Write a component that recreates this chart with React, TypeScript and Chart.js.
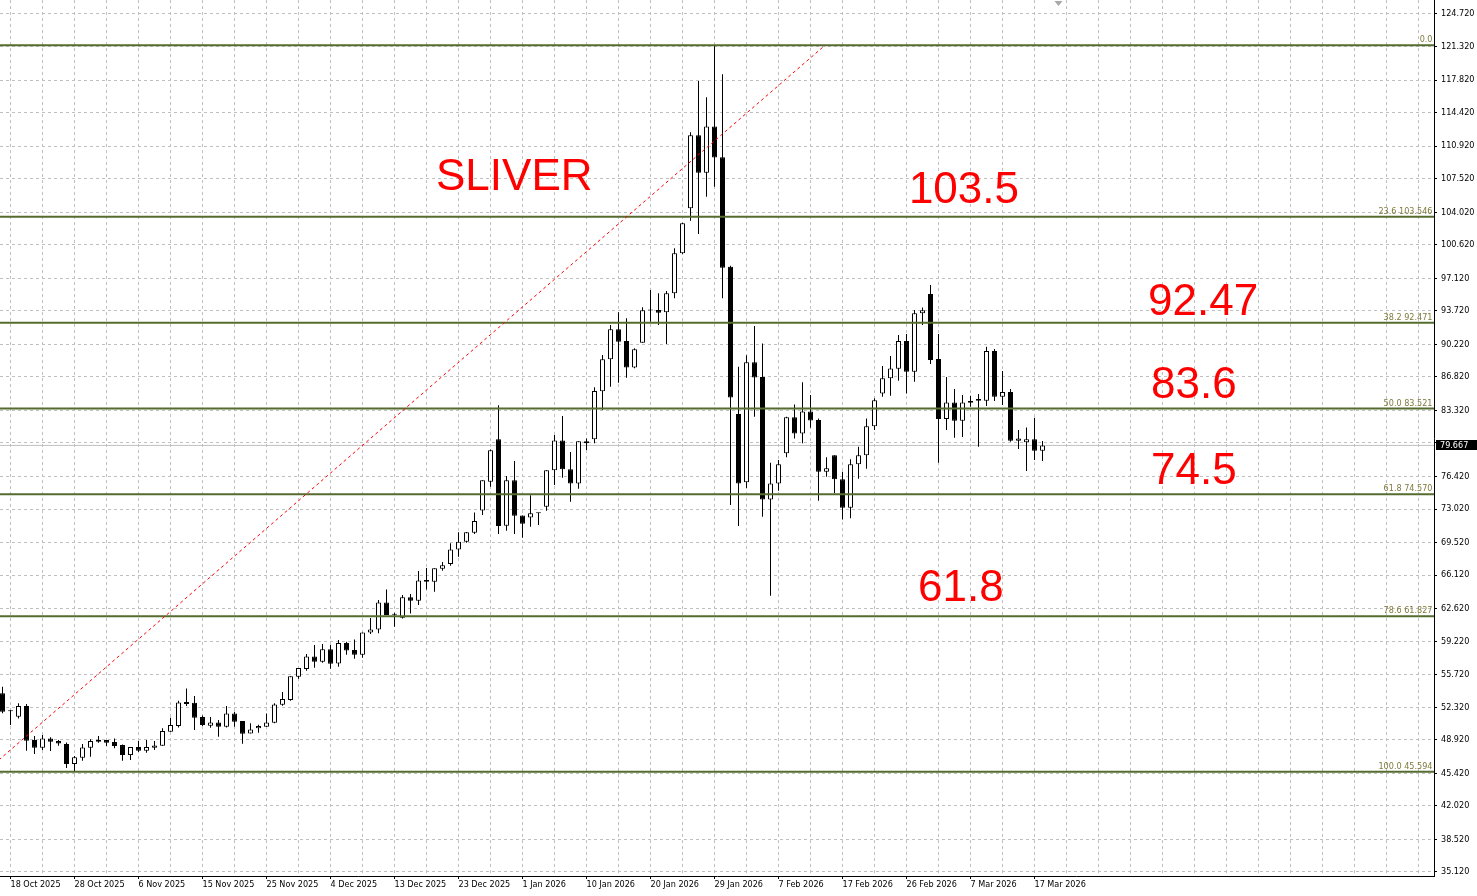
import React, { useEffect, useRef } from 'react';
import { Chart, registerables } from 'chart.js';

Chart.register(...registerables);

// ---- Data (silver daily candles) ----
const opens = [
  53.78, 51.90, 51.33, 52.45, 48.90, 48.10, 49.07, 48.79, 48.48, 46.39,
  47.05, 48.10, 48.93, 48.90, 48.69, 48.37, 47.33, 48.17, 47.78, 48.10,
  48.30, 49.77, 50.36, 52.87, 52.80, 51.30, 50.39, 50.74, 50.29, 51.68,
  50.88, 49.59, 50.12, 50.29, 50.71, 52.59, 53.07, 55.51, 56.31, 57.63,
  57.08, 58.37, 56.90, 59.03, 58.30, 57.81, 60.14, 60.45, 63.27, 61.99,
  61.67, 63.80, 63.45, 65.61, 65.43, 66.79, 67.28, 68.81, 69.61, 70.55,
  72.88, 75.88, 80.30, 71.28, 76.02, 72.36, 72.15, 72.57, 73.27, 77.06,
  80.19, 77.17, 75.70, 80.09, 80.30, 85.32, 88.66, 91.79, 90.57, 87.79,
  90.40, 93.75, 93.81, 93.57, 95.55, 99.73, 104.43, 112.05, 108.15, 112.96,
  109.75, 98.33, 82.94, 75.81, 88.34, 86.81, 74.03, 75.70, 78.84, 82.60,
  80.92, 83.22, 82.32, 76.92, 78.63, 76.12, 73.16, 77.69, 78.63, 81.66,
  85.10, 86.67, 87.68, 90.57, 87.37, 93.46, 95.48, 88.69, 82.42, 84.16,
  82.25, 84.30, 84.51, 84.34, 89.52, 84.75, 85.24, 80.16, 79.99, 80.30,
  79.11,
];
const highs = [
  54.47, 52.03, 52.73, 52.66, 49.31, 49.42, 49.18, 48.90, 48.65, 47.23,
  48.48, 48.97, 49.31, 48.90, 49.07, 48.44, 48.17, 48.79, 48.90, 48.79,
  50.12, 51.23, 53.00, 54.29, 53.49, 51.47, 51.30, 50.99, 52.45, 51.86,
  50.88, 50.64, 50.50, 51.68, 52.73, 53.91, 55.55, 56.42, 57.88, 58.82,
  58.92, 58.82, 59.34, 59.17, 59.41, 60.14, 61.64, 63.52, 64.63, 62.19,
  64.04, 64.14, 66.55, 66.86, 66.83, 67.49, 69.44, 70.59, 70.62, 72.67,
  76.02, 79.25, 83.85, 76.47, 78.04, 72.36, 74.45, 72.64, 77.06, 80.75,
  82.73, 78.98, 80.09, 80.40, 85.73, 89.11, 92.24, 93.57, 92.94, 89.81,
  94.09, 95.90, 95.55, 95.79, 100.25, 102.93, 112.36, 117.72, 116.02, 121.45,
  118.42, 98.43, 87.89, 89.07, 92.13, 90.32, 77.86, 78.14, 82.67, 83.95,
  86.25, 84.93, 82.49, 78.42, 78.63, 76.92, 78.21, 79.53, 82.49, 84.58,
  87.96, 89.00, 91.19, 91.30, 93.80, 94.08, 96.42, 91.30, 86.81, 85.56,
  84.93, 84.86, 85.03, 89.98, 89.73, 87.43, 85.56, 81.27, 81.55, 82.56,
  80.13,
];
const lows = [
  51.69, 50.46, 51.16, 47.78, 47.43, 47.85, 47.75, 48.30, 45.97, 45.59,
  46.74, 47.16, 48.62, 48.27, 48.03, 46.74, 46.81, 47.64, 47.57, 47.85,
  48.30, 49.77, 50.22, 52.45, 49.94, 50.36, 50.18, 49.24, 50.22, 50.29,
  48.51, 49.59, 49.66, 50.29, 50.64, 52.48, 53.00, 55.30, 56.14, 56.45,
  56.97, 56.35, 56.56, 57.81, 57.39, 57.49, 59.97, 60.04, 61.95, 60.73,
  61.60, 62.12, 63.00, 64.63, 64.39, 66.58, 67.11, 68.05, 69.51, 70.41,
  72.40, 75.36, 70.41, 70.76, 70.41, 70.03, 71.18, 71.35, 72.85, 75.53,
  76.30, 73.79, 75.15, 79.18, 79.88, 83.37, 85.80, 86.22, 86.74, 87.72,
  90.40, 92.59, 92.24, 90.26, 95.03, 99.66, 103.14, 101.75, 105.64, 106.69,
  95.03, 73.44, 71.25, 75.22, 82.67, 72.22, 63.97, 74.94, 78.42, 80.40,
  79.88, 81.52, 73.89, 76.40, 74.66, 71.94, 72.05, 76.19, 77.24, 81.27,
  84.75, 84.86, 86.43, 85.10, 86.32, 92.24, 88.17, 77.86, 81.27, 80.47,
  80.54, 83.71, 79.53, 83.78, 84.30, 83.88, 80.06, 79.29, 76.99, 78.14,
  78.04,
];
const closes = [
  51.86, 51.95, 52.45, 48.83, 48.10, 49.07, 48.72, 48.55, 46.39, 47.09,
  48.13, 48.79, 48.72, 48.62, 48.27, 47.33, 48.17, 47.78, 48.17, 48.34,
  49.84, 50.46, 52.83, 52.66, 51.23, 50.46, 50.74, 50.29, 51.68, 50.81,
  49.56, 50.01, 50.36, 50.74, 52.62, 53.18, 55.55, 56.42, 57.63, 57.08,
  58.37, 56.87, 59.03, 58.26, 57.81, 60.14, 60.45, 63.27, 61.95, 62.05,
  63.80, 63.45, 65.57, 65.43, 66.83, 67.14, 68.81, 69.61, 70.59, 71.77,
  76.02, 79.15, 71.25, 76.02, 72.33, 71.49, 72.57, 72.60, 77.06, 80.19,
  77.17, 75.70, 80.09, 79.88, 85.35, 88.66, 91.79, 90.50, 87.79, 89.70,
  93.78, 93.78, 93.53, 95.55, 99.73, 102.86, 112.05, 108.15, 112.96, 109.72,
  98.23, 84.68, 75.70, 88.34, 86.77, 74.03, 75.70, 77.69, 82.60, 80.92,
  83.22, 82.28, 76.92, 77.27, 76.12, 73.16, 77.69, 78.63, 81.66, 84.37,
  86.67, 87.71, 90.57, 87.37, 93.46, 93.77, 88.58, 82.42, 84.16, 82.25,
  84.16, 84.13, 84.34, 89.52, 84.75, 85.24, 80.16, 80.40, 80.30, 79.11,
  79.667,
];

// Date labels, one every 8 bars starting at bar 1
const dateLabels = [
  '18 Oct 2025', '28 Oct 2025', '6 Nov 2025', '15 Nov 2025', '25 Nov 2025',
  '4 Dec 2025', '13 Dec 2025', '23 Dec 2025', '1 Jan 2026', '10 Jan 2026',
  '20 Jan 2026', '29 Jan 2026', '7 Feb 2026', '17 Feb 2026', '26 Feb 2026',
  '7 Mar 2026', '17 Mar 2026',
];

const yTickLabels = [
  '124.720', '121.320', '117.820', '114.420', '110.920', '107.520', '104.020',
  '100.620', '97.120', '93.720', '90.220', '86.820', '83.320', '79.920',
  '76.420', '73.020', '69.520', '66.120', '62.620', '59.220', '55.720',
  '52.320', '48.920', '45.420', '42.020', '38.520', '35.120',
];

// Fibonacci retracement
const fibLevels = [121.45, 103.546, 92.471, 83.521, 74.57, 61.827, 45.594];
const fibTexts = ['0.0', '23.6 103.546', '38.2 92.471', '50.0 83.521', '61.8 74.570', '78.6 61.827', '100.0 45.594'];
const trendBars = [-2.15, 102.81];
const trendPrices = [45.594, 121.45];

const bidPrice = 79.667;
const bidText = '79.667';
const shiftMarkerBar = 132;

const annotationTexts = ['SLIVER', '103.5', '92.47', '83.6', '74.5', '61.8'];
const annotationBars = [54.19, 113.3, 143.19, 143.56, 143.56, 114.44];
const annotationPrices = [106.34, 104.98, 93.29, 84.62, 75.64, 63.42];

// ---- Layout ----
const W = 1477;
const H = 896;
const PLOT_RIGHT = 1434;
const PLOT_BOTTOM = 876;
const BAR_PX = 8;
const X_MIN = -2.5 / BAR_PX;
const X_MAX = X_MIN + PLOT_RIGHT / BAR_PX;
const PX_PER_UNIT = 9.576;
const Y_MAX = 126.18;
const Y_MIN = Y_MAX - PLOT_BOTTOM / PX_PER_UNIT;

const AXIS_FONT = '"DejaVu Sans Condensed", "Liberation Sans", Arial, sans-serif';
const GRID_COLOR = '#c0c0c0';
const FIB_LINE = '#556B2F';
const FIB_TEXT = '#7f7a3c';

const isLabelTick = (v: number) => {
  const k = (Math.round(v) - 1) / 8;
  return Number.isInteger(k) && k >= 0 && k < dateLabels.length;
};

const overlayPlugin = {
  id: 'overlay',
  afterDraw(chart: any) {
    const { ctx, chartArea } = chart;
    const xs = chart.scales.x;
    const ys = chart.scales.y;
    ctx.save();
    // Fibonacci level labels
    ctx.font = `9px ${AXIS_FONT}`;
    ctx.fillStyle = FIB_TEXT;
    ctx.textAlign = 'right';
    ctx.textBaseline = 'alphabetic';
    fibLevels.forEach((v, i) => {
      ctx.fillText(fibTexts[i], chartArea.right - 1.5, ys.getPixelForValue(v) - 3);
    });
    // Big red annotations
    ctx.font = '44px "Liberation Sans", Arial, sans-serif';
    ctx.fillStyle = '#ff0000';
    ctx.textAlign = 'left';
    annotationTexts.forEach((t, i) => {
      ctx.fillText(t, xs.getPixelForValue(annotationBars[i]), ys.getPixelForValue(annotationPrices[i]));
    });
    // Current price box
    const py = ys.getPixelForValue(bidPrice);
    ctx.fillStyle = '#000';
    ctx.fillRect(chartArea.right + 2, Math.round(py) - 5, W - chartArea.right - 2, 10);
    ctx.fillStyle = '#fff';
    ctx.font = `9px ${AXIS_FONT}`;
    ctx.textBaseline = 'middle';
    ctx.fillText(bidText, chartArea.right + 6, Math.round(py) + 0.5);
    // Chart shift marker
    const mx = xs.getPixelForValue(shiftMarkerBar);
    ctx.fillStyle = '#a8a8a8';
    ctx.beginPath();
    ctx.moveTo(mx - 4, chartArea.top + 1);
    ctx.lineTo(mx + 4, chartArea.top + 1);
    ctx.lineTo(mx, chartArea.top + 6);
    ctx.closePath();
    ctx.fill();
    ctx.restore();
  },
};

export default function App() {
  const canvasRef = useRef<HTMLCanvasElement | null>(null);

  useEffect(() => {
    if (!canvasRef.current) return;
    const idx = opens.map((_, i) => i);
    const bodyColors = idx.map((i) => (closes[i] >= opens[i] ? '#ffffff' : '#000000'));
    const lineDs = (data: any[], color: string, width: number, order: number, dash: number[] = []) => ({
      type: 'line' as const,
      data,
      borderColor: color,
      borderWidth: width,
      borderDash: dash,
      pointRadius: 0,
      pointHoverRadius: 0,
      fill: false,
      tension: 0,
      order,
    });

    const chart = new Chart(canvasRef.current, {
      type: 'bar',
      data: {
        datasets: [
          lineDs([{ x: X_MIN, y: bidPrice }, { x: X_MAX, y: bidPrice }], '#c0c0c0', 1, 5) as any,
          {
            type: 'bar',
            data: idx.map((i) => ({ x: i, y: [lows[i], highs[i]] })),
            backgroundColor: '#000000',
            borderWidth: 0,
            barThickness: 1,
            grouped: false,
            inflateAmount: 0,
            order: 3,
          } as any,
          {
            type: 'bar',
            data: idx.map((i) => ({ x: i, y: [opens[i], closes[i]] })),
            backgroundColor: bodyColors,
            borderColor: '#000000',
            borderWidth: 1,
            borderSkipped: false,
            barThickness: 5,
            minBarLength: 1,
            grouped: false,
            inflateAmount: 0,
            order: 2,
          } as any,
          ...fibLevels.map((v) => lineDs([{ x: X_MIN, y: v }, { x: X_MAX, y: v }], FIB_LINE, 2, 1) as any),
          lineDs(
            [
              { x: trendBars[0], y: trendPrices[0] },
              { x: trendBars[1], y: trendPrices[1] },
            ],
            '#ff0000',
            1,
            0,
            [3, 3]
          ) as any,
        ],
      },
      options: {
        responsive: false,
        maintainAspectRatio: false,
        devicePixelRatio: 1,
        animation: false,
        events: [],
        layout: { padding: 0 },
        plugins: {
          legend: { display: false },
          tooltip: { enabled: false },
          title: { display: false },
        },
        scales: {
          x: {
            type: 'linear',
            position: 'bottom',
            min: X_MIN,
            max: X_MAX,
            offset: false,
            afterBuildTicks: (s: any) => {
              const t = [];
              for (let v = 1; v <= X_MAX; v += 4) t.push({ value: v });
              s.ticks = t;
            },
            afterFit: (s: any) => {
              s.height = H - PLOT_BOTTOM;
              s.paddingLeft = 0;
              s.paddingRight = 0;
              s.paddingTop = 0;
              s.paddingBottom = 0;
            },
            ticks: {
              autoSkip: false,
              maxRotation: 0,
              minRotation: 0,
              align: 'start',
              padding: 0,
              color: '#000',
              font: { family: AXIS_FONT, size: 9 },
              callback: (v: any) => {
                const n = Number(v);
                return isLabelTick(n) ? dateLabels[(Math.round(n) - 1) / 8] : '';
              },
            },
            grid: {
              offset: false,
              color: GRID_COLOR,
              lineWidth: 1,
              drawTicks: true,
              tickLength: 3,
              tickColor: (c: any) => (c.tick && isLabelTick(c.tick.value) ? '#000' : 'rgba(0,0,0,0)'),
              tickBorderDash: [],
            },
            border: { display: true, color: '#000', width: 1, dash: [3, 3] },
          } as any,
          y: {
            type: 'linear',
            position: 'right',
            min: Y_MIN,
            max: Y_MAX,
            beginAtZero: false,
            afterBuildTicks: (s: any) => {
              s.ticks = yTickLabels.map((l) => ({ value: parseFloat(l) }));
            },
            afterFit: (s: any) => {
              s.width = W - PLOT_RIGHT;
              s.paddingLeft = 0;
              s.paddingRight = 0;
              s.paddingTop = 0;
              s.paddingBottom = 0;
            },
            ticks: {
              autoSkip: false,
              padding: 4,
              color: '#000',
              font: { family: AXIS_FONT, size: 9 },
              callback: (v: any, i: number) =>
                Math.abs(Number(v) - bidPrice) * PX_PER_UNIT < 9 ? '' : yTickLabels[i],
            },
            grid: {
              offset: false,
              color: GRID_COLOR,
              lineWidth: 1,
              drawTicks: true,
              tickLength: 3,
              tickColor: '#000',
              tickBorderDash: [],
            },
            border: { display: true, color: '#000', width: 1, dash: [3, 3] },
          } as any,
        },
      },
      plugins: [overlayPlugin],
    });
    return () => chart.destroy();
  }, []);

  return (
    <div style={{ position: 'fixed', left: 0, top: 0, width: W, height: H, background: '#ffffff' }}>
      <canvas ref={canvasRef} width={W} height={H} style={{ display: 'block', width: W, height: H }} />
    </div>
  );
}
